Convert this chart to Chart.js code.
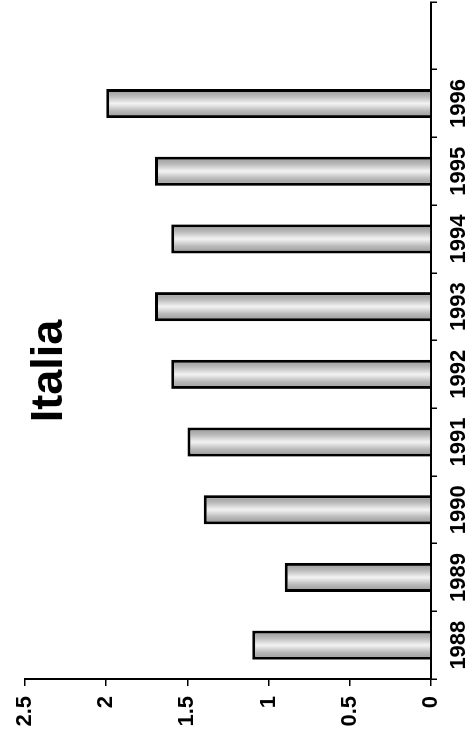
<!DOCTYPE html>
<html>
<head>
<meta charset="utf-8">
<title>Italia</title>
<script src="https://cdn.jsdelivr.net/npm/chart.js@4.4.0/dist/chart.umd.min.js"></script>
<style>
  html, body { margin: 0; padding: 0; background: #fff; overflow: hidden; }
  #wrap { position: relative; width: 476px; height: 742px; }
  /* the chart is drawn upright and then turned a quarter turn to the left */
  #chart {
    position: absolute; left: 0; top: 0;
    transform-origin: 0 0;
    transform: translate(0, 742px) rotate(-90deg);
  }
</style>
</head>
<body>
<div id="wrap"><canvas id="chart" width="742" height="476"></canvas></div>
<script>
// Data
const years = ["1988", "1989", "1990", "1991", "1992", "1993", "1994", "1995", "1996", ""];
const values = [1.1, 0.9, 1.4, 1.5, 1.6, 1.7, 1.6, 1.7, 2.0];
const valueTicks = [0, 0.5, 1, 1.5, 2, 2.5];
const chartTitle = "Italia";

const barShare = 0.43; // bar thickness as part of a category slot

// Grey bar fill, lighter along the middle of each bar
function barFill(context) {
  const chart = context.chart;
  const x = chart.scales.x;
  if (!x || !x.width) return "#c8c8c8";
  const slot = x.width / years.length;
  const cx = x.getPixelForValue(context.dataIndex);
  if (!isFinite(cx) || !isFinite(slot)) return "#c8c8c8";
  const half = slot * barShare / 2;
  const g = chart.ctx.createLinearGradient(cx - half, 0, cx + half, 0);
  g.addColorStop(0, "#969696");
  g.addColorStop(0.25, "#b9b9b9");
  g.addColorStop(0.45, "#e8e8e8");
  g.addColorStop(0.5, "#f2f2f2");
  g.addColorStop(0.55, "#e8e8e8");
  g.addColorStop(0.75, "#b9b9b9");
  g.addColorStop(1, "#969696");
  return g;
}

// Title sits inside the plot, near the top
const titlePlugin = {
  id: "insideTitle",
  afterDraw(chart) {
    const ctx = chart.ctx;
    ctx.save();
    ctx.fillStyle = "#000";
    ctx.font = "bold 45px 'Liberation Sans', Arial, sans-serif";
    ctx.textAlign = "center";
    ctx.textBaseline = "alphabetic";
    ctx.fillText(chartTitle, chart.width / 2, chart.chartArea.top + 37);
    ctx.restore();
  }
};

new Chart(document.getElementById("chart"), {
  type: "bar",
  data: {
    labels: years,
    datasets: [{
      data: values,
      backgroundColor: barFill,
      borderColor: "#000",
      borderWidth: 3,
      barPercentage: barShare,
      categoryPercentage: 1
    }]
  },
  options: {
    responsive: false,
    animation: false,
    devicePixelRatio: 1,
    layout: { padding: { top: 25, right: 2, left: 0, bottom: 0 } },
    plugins: { legend: { display: false }, tooltip: { enabled: false } },
    scales: {
      x: {
        offset: true,
        grid: { offset: true, drawOnChartArea: false, color: "#000", lineWidth: 1.5, tickLength: 6 },
        border: { color: "#000", width: 2 },
        ticks: {
          color: "#000",
          padding: 9,
          maxRotation: 0,
          font: { family: "'Liberation Sans Narrow', 'Arial Narrow', 'Liberation Sans', sans-serif", size: 22, weight: "bold" }
        },
        afterFit: (s) => { s.height = 45; }
      },
      y: {
        min: 0,
        max: 2.5,
        grid: { drawOnChartArea: false, color: "#000", lineWidth: 1.5, tickLength: 7 },
        border: { color: "#000", width: 2 },
        afterBuildTicks: (s) => { s.ticks = valueTicks.map(v => ({ value: v })); },
        ticks: {
          color: "#000",
          padding: 10,
          callback: (v) => String(v),
          font: { family: "'Liberation Sans', Arial, sans-serif", size: 22, weight: "bold" }
        },
        afterFit: (s) => { s.width = 63; }
      }
    }
  },
  plugins: [titlePlugin]
});
</script>
</body>
</html>
